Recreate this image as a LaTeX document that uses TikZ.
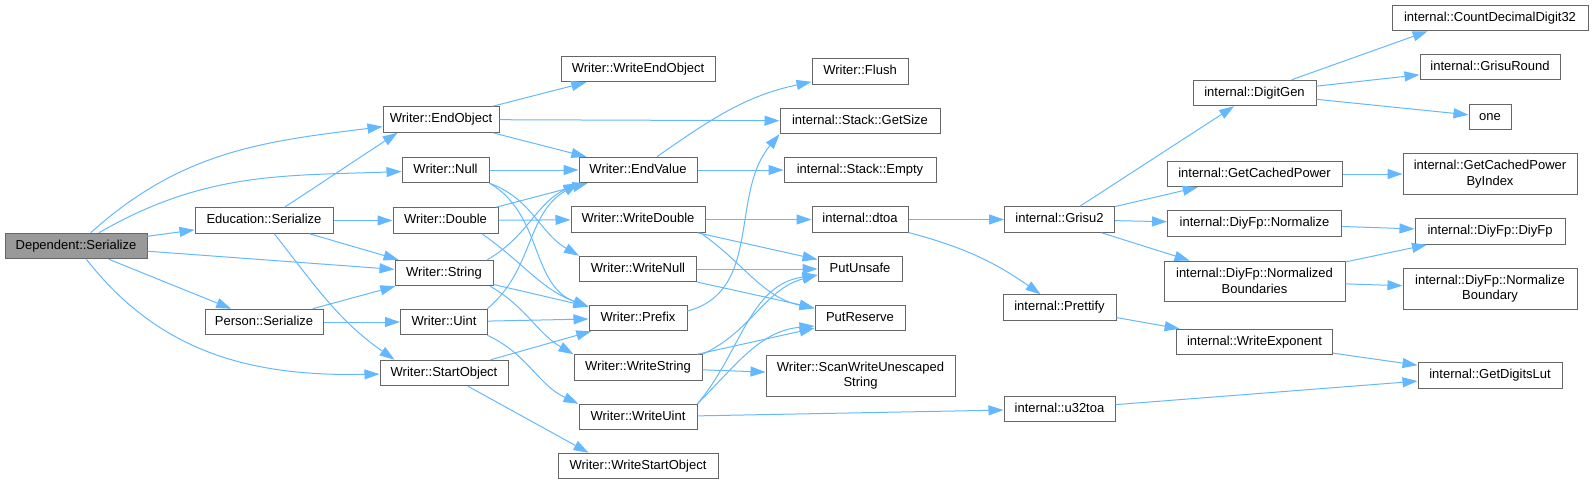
\documentclass[tikz,border=0pt]{standalone}
\usepackage{fontspec}
\setmainfont{Liberation Sans}
\usetikzlibrary{arrows.meta}
\definecolor{edgeblue}{HTML}{63B8FF}
\definecolor{boxgray}{HTML}{666666}
\definecolor{rootgray}{HTML}{999999}

\begin{document}
\begin{tikzpicture}[x=1pt, y=1pt,
  fnode/.style={draw=boxgray, line width=1pt, fill=white, inner xsep=4pt, inner ysep=2pt,
    font=\fontsize{13pt}{15.5pt}\selectfont, minimum height=25.5pt, text height=9.5pt, text depth=2.8pt},
  fnodetwo/.style={draw=boxgray, line width=1pt, fill=white, inner xsep=4pt, inner ysep=2pt,
    font=\fontsize{13pt}{15.5pt}\selectfont, minimum height=41pt, align=center},
  call/.style={draw=edgeblue, line width=1pt, -{Triangle[length=15pt,width=10pt]}}]
  \useasboundingbox (0,0) rectangle (1593,-484);

  \node[fnode, fill=rootgray, minimum width=142pt] (dep) at (76,-246) {Dependent::Serialize};
  \node[fnode, minimum width=138pt] (edu) at (264,-220.5) {Education::Serialize};
  \node[fnode, minimum width=118pt] (per) at (264,-322) {Person::Serialize};

  \node[fnode, minimum width=116pt] (endobj) at (441,-119.5) {Writer::EndObject};
  \node[fnode, minimum width=87pt] (null) at (445.5,-170) {Writer::Null};
  \node[fnode, minimum width=105pt] (dbl) at (445.5,-220.5) {Writer::Double};
  \node[fnode, minimum width=98pt] (str) at (444,-273) {Writer::String};
  \node[fnode, minimum width=87pt] (uint) at (444,-322) {Writer::Uint};
  \node[fnode, minimum width=128pt] (startobj) at (444,-373) {Writer::StartObject};

  \node[fnode, minimum width=154pt] (wendobj) at (638,-69) {Writer::WriteEndObject};
  \node[fnode, minimum width=118pt] (endval) at (638,-170) {Writer::EndValue};
  \node[fnode, minimum width=134pt] (wdbl) at (638,-219.5) {Writer::WriteDouble};
  \node[fnode, minimum width=117pt] (wnull) at (638,-269) {Writer::WriteNull};
  \node[fnode, minimum width=98pt] (prefix) at (638,-318) {Writer::Prefix};
  \node[fnode, minimum width=128pt] (wstr) at (638,-367.5) {Writer::WriteString};
  \node[fnode, minimum width=118pt] (wuint) at (638,-417) {Writer::WriteUint};
  \node[fnode, minimum width=160pt] (wstartobj) at (638,-466) {Writer::WriteStartObject};

  \node[fnode, minimum width=96pt] (flush) at (860,-71.5) {Writer::Flush};
  \node[fnode, minimum width=160pt] (getsize) at (860,-121) {internal::Stack::GetSize};
  \node[fnode, minimum width=152pt] (empty) at (860,-170) {internal::Stack::Empty};
  \node[fnode, minimum width=96pt] (dtoa) at (860,-219.5) {internal::dtoa};
  \node[fnode, minimum width=84pt] (putunsafe) at (860,-269) {PutUnsafe};
  \node[fnode, minimum width=90pt] (putreserve) at (860,-318) {PutReserve};
  \node[fnodetwo, minimum width=189pt] (scanw) at (860.5,-375.5) {Writer::ScanWriteUnescaped\\String};

  \node[fnode, minimum width=110pt] (grisu2) at (1059.5,-219.5) {internal::Grisu2};
  \node[fnode, minimum width=113pt] (prettify) at (1059.5,-307.5) {internal::Prettify};
  \node[fnode, minimum width=111pt] (u32toa) at (1059.5,-409) {internal::u32toa};

  \node[fnode, minimum width=123pt] (digitgen) at (1254.5,-93) {internal::DigitGen};
  \node[fnode, minimum width=175pt] (gcp) at (1254.5,-174) {internal::GetCachedPower};
  \node[fnode, minimum width=174pt] (dnorm) at (1254.5,-223.5) {internal::DiyFp::Normalize};
  \node[fnodetwo, minimum width=181pt, minimum height=40pt] (dnormb) at (1254.5,-281) {internal::DiyFp::Normalized\\Boundaries};
  \node[fnode, minimum width=156pt] (wexp) at (1254.5,-342) {internal::WriteExponent};

  \node[fnode, minimum width=196pt] (cdd) at (1490,-18) {internal::CountDecimalDigit32};
  \node[fnode, minimum width=140pt] (grnd) at (1490,-67) {internal::GrisuRound};
  \node[fnode, minimum width=42pt] (one) at (1490,-117) {one};
  \node[fnodetwo, minimum width=174pt, minimum height=40pt] (gcpbi) at (1490,-174) {internal::GetCachedPower\\ByIndex};
  \node[fnode, minimum width=150pt] (diyfp) at (1490,-231.5) {internal::DiyFp::DiyFp};
  \node[fnodetwo, minimum width=174pt] (dnbound) at (1490,-288.5) {internal::DiyFp::Normalize\\Boundary};
  \node[fnode, minimum width=144pt] (gdl) at (1490,-375.5) {internal::GetDigitsLut};

  \draw[call] (dep) to[out=42,in=187] (endobj);
  \draw[call] (dep) to[out=30,in=182] (null);
  \draw[call] (dep) -- (edu);
  \draw[call] (dep) -- (str);
  \draw[call] (dep) -- (per);
  \draw[call] (dep) to[out=-52,in=181] (startobj);
  \draw[call] (edu) to[out=33,in=213] (endobj.197);
  \draw[call] (edu) -- (dbl);
  \draw[call] (edu) -- (str);
  \draw[call] (edu) to[out=-52,in=145] (startobj.165);
  \draw[call] (per) -- (str);
  \draw[call] (per) -- (uint);
  \draw[call] (endobj) -- (wendobj);
  \draw[call] (endobj) -- (getsize);
  \draw[call] (endobj) -- (endval);
  \draw[call] (null) -- (endval);
  \draw[call] (null.south east) to[out=-20,in=150] (wnull.north west);
  \draw[call] (null.south east) to[out=-30,in=160] (prefix.167);
  \draw[call] (dbl) -- (endval);
  \draw[call] (dbl) -- (wdbl);
  \draw[call] (dbl.-20) to[out=-35,in=160] (prefix.167);
  \draw[call] (str.17) to[out=30,in=205] (endval.south west);
  \draw[call] (str) -- (prefix);
  \draw[call] (str.-16) to[out=-30,in=150] (wstr.north west);
  \draw[call] (uint.17) to[out=40,in=210] (endval.south west);
  \draw[call] (uint) -- (prefix);
  \draw[call] (uint.-17) to[out=-25,in=155] (wuint.north west);
  \draw[call] (startobj) -- (prefix);
  \draw[call] (startobj) -- (wstartobj.165);
  \draw[call] (endval) to[out=35,in=192] (flush.192);
  \draw[call] (endval) -- (empty);
  \draw[call] (wdbl) -- (dtoa);
  \draw[call] (wdbl) -- (putunsafe);
  \draw[call] (wdbl.-12) to[out=-35,in=168] (putreserve.168);
  \draw[call] (wnull) -- (putunsafe);
  \draw[call] (wnull) -- (putreserve);
  \draw[call] (prefix.8) to[out=15,in=230] (getsize.south west);
  \draw[call] (wstr.north east) to[out=25,in=195] (putunsafe.-172);
  \draw[call] (wstr) -- (putreserve);
  \draw[call] (wstr) -- (scanw);
  \draw[call] (wuint.north east) to[out=50,in=188] (putunsafe.-172);
  \draw[call] (wuint.north east) to[out=45,in=185] (putreserve.-170);
  \draw[call] (wuint) -- (u32toa);
  \draw[call] (dtoa) -- (grisu2);
  \draw[call] (dtoa) to[out=-15,in=145] (prettify);
  \draw[call] (grisu2) -- (digitgen);
  \draw[call] (grisu2) -- (gcp);
  \draw[call] (grisu2) -- (dnorm);
  \draw[call] (grisu2) -- (dnormb);
  \draw[call] (digitgen) -- (cdd.192);
  \draw[call] (digitgen) -- (grnd);
  \draw[call] (digitgen) -- (one);
  \draw[call] (gcp) -- (gcpbi);
  \draw[call] (dnorm) -- (diyfp);
  \draw[call] (dnormb) -- (diyfp);
  \draw[call] (dnormb) -- (dnbound);
  \draw[call] (prettify) -- (wexp);
  \draw[call] (wexp) -- (gdl);
  \draw[call] (u32toa) -- (gdl);
\end{tikzpicture}
\end{document}
